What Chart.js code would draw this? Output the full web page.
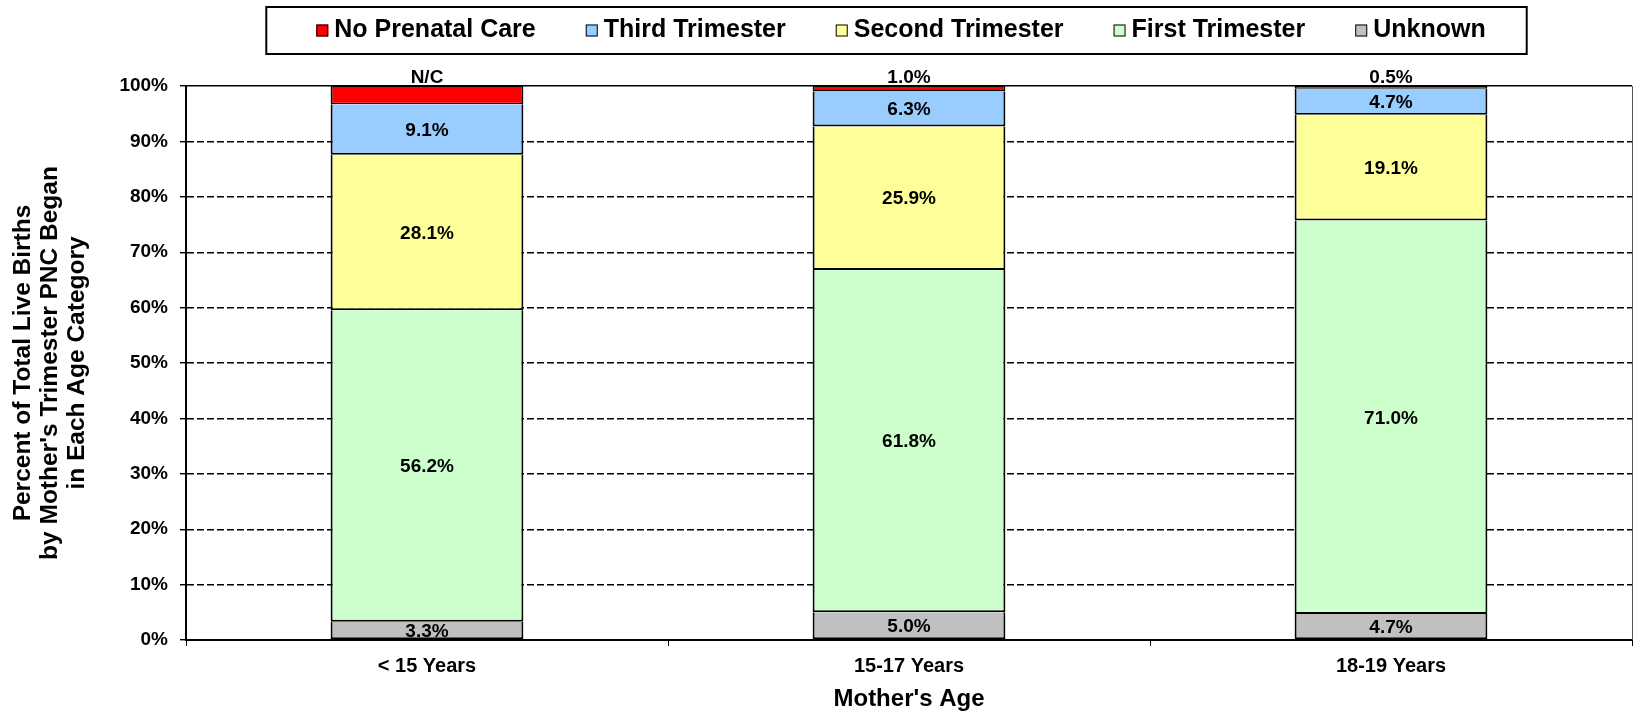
<!DOCTYPE html>
<html>
<head>
<meta charset="utf-8">
<title>Trimester Prenatal Care Began by Mother's Age</title>
<script src="https://cdn.jsdelivr.net/npm/chart.js@4.4.1/dist/chart.umd.min.js"></script>
<style>
  html, body { margin: 0; padding: 0; background: #fff; }
</style>
</head>
<body>
<canvas id="pncChart" width="1633" height="714"></canvas>
<script>
// Age groups on the x axis
const ageGroups = ['< 15 Years', '15-17 Years', '18-19 Years'];

// Percent of live births, stacked bottom to top
const unknownPct = [3.3, 5.0, 4.7];
const firstTriPct = [56.2, 61.8, 71.0];
const secondTriPct = [28.1, 25.9, 19.1];
const thirdTriPct = [9.1, 6.3, 4.7];
const noCarePct = [3.3, 1.0, 0.5];          // < 15 not published -> N/C
const noCareLabels = ['N/C', '1.0%', '0.5%'];

const yTitle = ['Percent of Total Live Births', "by Mother's Trimester PNC Began", 'in Each Age Category'];
const xTitle = "Mother's Age";

const FONT = 'Arial, "Liberation Sans", Helvetica, sans-serif';
Chart.defaults.font.family = FONT;
Chart.defaults.color = '#000';

// value labels: centred in each segment, no-care value sits above the bar
const segmentLabels = {
    id: 'segmentLabels',
    afterDatasetsDraw(chart) {
        const ctx = chart.ctx;
        ctx.save();
        ctx.font = 'bold 19px ' + FONT;
        ctx.fillStyle = '#000';
        ctx.textAlign = 'center';
        ctx.textBaseline = 'middle';
        chart.data.datasets.forEach((ds, i) => {
            const meta = chart.getDatasetMeta(i);
            meta.data.forEach((bar, j) => {
                const { x, y, base } = bar.getProps(['x', 'y', 'base'], true);
                if (ds.outsideLabels) {
                    ctx.fillText(ds.outsideLabels[j], x, y - 8.5);
                } else {
                    ctx.fillText(ds.data[j].toFixed(1) + '%', x, (y + base) / 2 + 1);
                }
            });
        });
        ctx.restore();
    }
};

// plot frame on the right side
const plotFrame = {
    id: 'plotFrame',
    beforeDatasetsDraw(chart) {
        const { ctx, chartArea: a } = chart;
        ctx.save();
        ctx.strokeStyle = '#555';
        ctx.lineWidth = 1;
        ctx.beginPath();
        ctx.moveTo(a.right + 0.5, a.top);
        ctx.lineTo(a.right + 0.5, a.bottom);
        ctx.stroke();
        ctx.restore();
    }
};

// legend in a box across the top, items in reverse stack order
const boxedLegend = {
    id: 'boxedLegend',
    afterDraw(chart) {
        const ctx = chart.ctx;
        const items = chart.data.datasets.slice().reverse();
        const sq = 12, gap = 6, spacing = 50, centerX = 901, cy = 30.5;
        ctx.save();
        ctx.font = 'bold 25px ' + FONT;
        const widths = items.map(d => sq + gap + ctx.measureText(d.label).width);
        const total = widths.reduce((a, b) => a + b, 0) + spacing * (items.length - 1);
        let x = centerX - total / 2;

        ctx.lineWidth = 2;
        ctx.strokeStyle = '#000';
        ctx.strokeRect(x - 50, 7, total + 91, 47);

        ctx.textAlign = 'left';
        ctx.textBaseline = 'middle';
        items.forEach((d, i) => {
            ctx.fillStyle = d.backgroundColor;
            ctx.fillRect(x, cy - sq / 2, sq, sq);
            ctx.lineWidth = 1;
            ctx.strokeRect(x + 0.5, cy - sq / 2 + 0.5, sq - 1, sq - 1);
            ctx.fillStyle = '#000';
            ctx.fillText(d.label, x + sq + gap, cy);
            x += widths[i] + spacing;
        });
        ctx.restore();
    }
};

// each segment carries its own bottom edge so stacked boundaries stay single lines
const barStyle = {
    borderColor: '#000',
    borderWidth: { top: 0, bottom: 2, left: 2, right: 2 },
    borderSkipped: false,
    inflateAmount: 0,
    barPercentage: 0.4,
    categoryPercentage: 1.0
};

new Chart(document.getElementById('pncChart'), {
    type: 'bar',
    data: {
        labels: ageGroups,
        datasets: [
            { label: 'Unknown', data: unknownPct, backgroundColor: '#C0C0C0', ...barStyle },
            { label: 'First Trimester', data: firstTriPct, backgroundColor: '#CCFFCC', ...barStyle },
            { label: 'Second Trimester', data: secondTriPct, backgroundColor: '#FFFF99', ...barStyle },
            { label: 'Third Trimester', data: thirdTriPct, backgroundColor: '#99CCFF', ...barStyle },
            {
                label: 'No Prenatal Care', data: noCarePct, backgroundColor: '#FF0000',
                outsideLabels: noCareLabels, ...barStyle,
                borderWidth: { top: 1, bottom: 1.5, left: 2, right: 2 }
            }
        ]
    },
    options: {
        responsive: false,
        animation: false,
        layout: { padding: { top: 86, right: 1, left: 0, bottom: 0 } },
        plugins: {
            legend: { display: false },
            tooltip: { enabled: false }
        },
        scales: {
            x: {
                stacked: true,
                ticks: { color: '#000', font: { size: 20, weight: 'bold' }, padding: 8 },
                grid: { drawOnChartArea: false, offset: true, tickLength: 6, tickColor: '#000' },
                border: { color: '#000', width: 2 },
                title: {
                    display: true, text: xTitle, color: '#000',
                    font: { size: 24, weight: 'bold', lineHeight: 1.2 },
                    padding: { top: 0, bottom: 0 }
                },
                afterFit: s => { s.height = 74; }
            },
            y: {
                stacked: true,
                min: 0,
                max: 100,
                ticks: {
                    stepSize: 10,
                    color: '#000',
                    font: { size: 19, weight: 'bold' },
                    padding: 12,
                    callback: v => v + '%'
                },
                grid: { color: '#000', lineWidth: 1.4, tickLength: 6, tickColor: '#000' },
                border: {
                    color: '#000', width: 2,
                    dash: c => (c.tick && c.tick.value < 100) ? [7, 3] : []
                },
                title: {
                    display: true, text: yTitle, color: '#000',
                    font: { size: 24.5, weight: 'bold', lineHeight: 27 / 24.5 },
                    padding: { top: 10, bottom: 0 }
                },
                afterFit: s => { s.width = 186; }
            }
        }
    },
    plugins: [plotFrame, segmentLabels, boxedLegend]
});
</script>
</body>
</html>
